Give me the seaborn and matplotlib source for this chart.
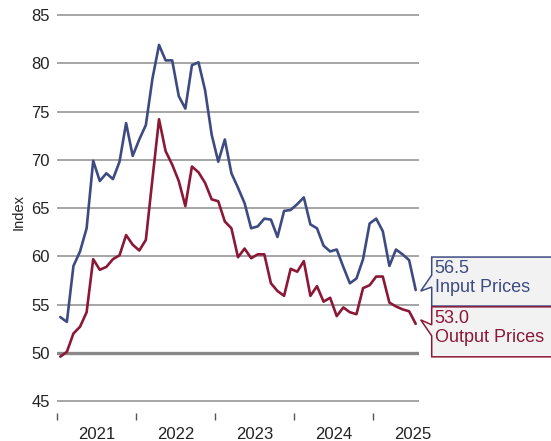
import numpy as np
import pandas as pd
import matplotlib
matplotlib.use("Agg")
import matplotlib.pyplot as plt
import seaborn as sns
from matplotlib.patches import Polygon
from matplotlib.transforms import IdentityTransform

# monthly index values, Jan 2021 .. Jul 2025
months = pd.date_range("2021-01-01", periods=55, freq="MS")
input_prices = [53.7, 53.2, 59.0, 60.5, 62.9, 69.9, 67.8, 68.6, 68.0, 69.8,
                73.8, 70.4, 72.1, 73.6, 78.4, 81.9, 80.3, 80.3, 76.6, 75.3,
                79.8, 80.1, 77.2, 72.6, 69.8, 72.1, 68.6, 67.1, 65.5, 62.9,
                63.1, 63.9, 63.8, 62.0, 64.7, 64.8, 65.4, 66.1, 63.3, 62.9,
                61.1, 60.5, 60.7, 58.9, 57.2, 57.7, 59.7, 63.4, 63.9, 62.6,
                59.0, 60.7, 60.2, 59.6, 56.5]
output_prices = [49.6, 50.1, 52.0, 52.7, 54.2, 59.7, 58.6, 58.9, 59.7, 60.1,
                 62.2, 61.2, 60.6, 61.7, 68.0, 74.2, 70.9, 69.5, 67.8, 65.2,
                 69.3, 68.7, 67.6, 65.9, 65.7, 63.6, 62.9, 59.9, 60.8, 59.8,
                 60.2, 60.2, 57.2, 56.4, 55.9, 58.7, 58.4, 59.5, 55.9, 56.9,
                 55.3, 55.7, 53.8, 54.7, 54.2, 54.0, 56.7, 57.0, 57.9, 57.9,
                 55.2, 54.8, 54.5, 54.3, 53.0]
years = ["2021", "2022", "2023", "2024", "2025"]
series_names = ["Input Prices", "Output Prices"]
colors = {"Input Prices": "#3d4b82", "Output Prices": "#8b1836"}

# month position (centre of month) counted from Jan 2021
pos = (months.year - 2021) * 12 + months.month - 1 + 0.5
df = pd.DataFrame({"x": np.tile(pos, 2),
                   "value": input_prices + output_prices,
                   "series": np.repeat(series_names, len(months))})

sns.set_style("white")
plt.rcParams["font.family"] = ["Liberation Sans", "DejaVu Sans"]

fig = plt.figure(figsize=(5.51, 4.41), dpi=100)
ax = fig.add_axes([57 / 551, 1 - 413 / 441, 362 / 551, 403 / 441])

ax.grid(axis="y", color="#969696", lw=1.2, zorder=0)
ax.axhline(50, color="#888888", lw=2.4, zorder=1)
sns.lineplot(data=df, x="x", y="value", hue="series", palette=colors,
             lw=1.9, legend=False, ax=ax, zorder=3)

ax.set_xlim(0, 55)
ax.set_ylim(43.76, 85.52)
ax.set_yticks(np.arange(45, 86, 5))
ax.tick_params(axis="y", length=0, pad=5, labelsize=12, colors="#222222")
ax.set_xticks(np.arange(0, 60, 12))
ax.set_xticklabels([])
ax.set_xticks(np.arange(6, 60, 12), minor=True)
ax.set_xticklabels(years, minor=True)
ax.tick_params(axis="x", which="major", bottom=True, length=5, width=1,
               color="#555555", direction="out")
ax.tick_params(axis="x", which="minor", bottom=True, length=0, pad=10,
               labelsize=12, colors="#222222")
ax.set_xlabel("")
ax.set_ylabel("Index", fontsize=10.5, labelpad=4)
for s in ax.spines.values():
    s.set_visible(False)

# callout boxes at the last values
callouts = [
    # series, value, box top, box bottom, pointer base top, base bottom, tip dy
    ("Input Prices", input_prices[-1], -33, 16, -15, -3, 1),
    ("Output Prices", output_prices[-1], -17, 33, 1, 12, -4),
]
fig.canvas.draw()
for name, val, top, bot, b1, b2, tip in callouts:
    px, py = ax.transData.transform((pos[-1], val))
    c = colors[name]
    pts = [(16, top), (160, top), (160, bot), (16, bot), (16, b2), (5, tip),
           (16, b1)]
    verts = [(px + dx, py - dy) for dx, dy in pts]
    poly = Polygon(verts, closed=True, fc="#f2f2f2", ec=c, lw=1.1,
                   transform=IdentityTransform(), clip_on=False, zorder=5)
    fig.patches.append(poly)
    fig.text((px + 19) / fig.bbox.width, (py - top - 3) / fig.bbox.height,
             f"{val:.1f}\n{name}", color=c, fontsize=13, va="top",
             ha="left", linespacing=1.15, zorder=6)

fig.savefig("out.png", dpi=100)
